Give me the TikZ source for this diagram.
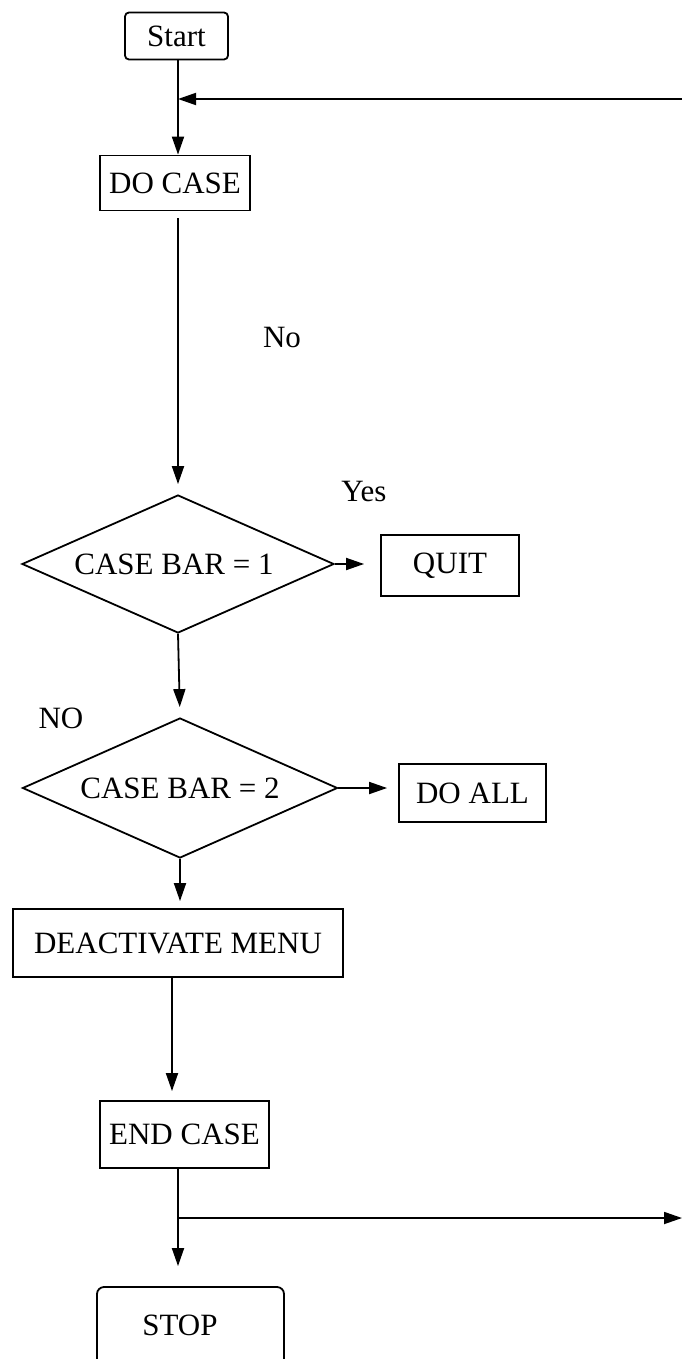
\documentclass[tikz,border=0pt]{standalone}
\usepackage{fontspec}
\setmainfont{Liberation Serif}
\usetikzlibrary{shapes.geometric,arrows.meta}
\begin{document}
\begin{tikzpicture}[x=1pt,y=-1pt,
  every node/.style={font=\fontsize{31}{37}\selectfont},
  box/.style={draw, line width=1.8pt, inner sep=0pt, align=center},
  dec/.style={draw, diamond, line width=1.8pt, inner sep=0pt, aspect=2.26},
  lbl/.style={inner sep=0pt},
  arr/.style={line width=1.8pt, -{Triangle[length=18pt,width=12pt]}},
  ln/.style={line width=1.8pt}]
\useasboundingbox (0,0) rectangle (682,1359);
\clip (0,0) rectangle (682,1359);
\fill[white] (0,0) rectangle (682,1359);
% spine coordinates
\coordinate (sp) at (178,0);
\coordinate (sp2) at (172,0);
% nodes
\node[box, rounded corners=4pt, minimum width=103pt, minimum height=47pt] (start) at (176.5,36) {Start};
\node[box, minimum width=150pt, minimum height=55pt] (docase) at (175,183) {DO CASE};
\node[lbl] (no) at (282,338) {No};
\node[dec, minimum width=312pt, minimum height=138pt] (d1) at (178,564) {\hspace*{-8pt}CASE BAR = 1};
\node[lbl] (yes) at (364,491) {Yes};
\node[box, minimum width=138pt, minimum height=61pt] (quit) at (450,565.5) {QUIT};
\node[lbl] (NO) at (61,718) {NO};
\node[dec, minimum width=315pt, minimum height=140pt] (d2) at (180,788) {CASE BAR = 2};
\node[box, minimum width=147pt, minimum height=58pt] (doall) at (472.5,793) {DO ALL};
\node[box, minimum width=330pt, minimum height=68pt] (deact) at (178,943) {DEACTIVATE MENU};
\node[box, minimum width=169pt, minimum height=67pt] (endcase) at (184.5,1134.5) {END CASE};
\node[box, rounded corners=7pt, minimum width=187pt, minimum height=92pt] (stop) at (190.5,1333) {};
\node[lbl] (stoptext) at (180,1325) {STOP};
% connectors
\coordinate (fbR) at (682,99);
\draw[arr] (start.south -| sp) -- (docase.north -| sp);
\draw[arr] (fbR) -- (fbR -| sp);
\draw[arr, shorten <=7pt, shorten >=10pt] (docase.south -| sp) -- (d1.north);
\draw[arr, shorten >=16pt] (d1.east) -- (d1.east -| quit.west);
\draw[arr, shorten >=10pt] (d1.south) -- (d2.north);
\draw[arr, shorten >=11pt] (d2.east) -- (d2.east -| doall.west);
\draw[arr, shorten >=7pt] (d2.south) -- (deact.north -| d2.south);
\draw[arr, shorten >=9pt] (deact.south -| sp2) -- (endcase.north -| sp2);
\draw[arr, shorten >=20pt] (endcase.south -| sp) -- (stop.north -| sp);
\coordinate (br) at (178,1218);
\coordinate (brR) at (682,1218);
\draw[arr] (br) -- (brR);
\end{tikzpicture}
\end{document}
